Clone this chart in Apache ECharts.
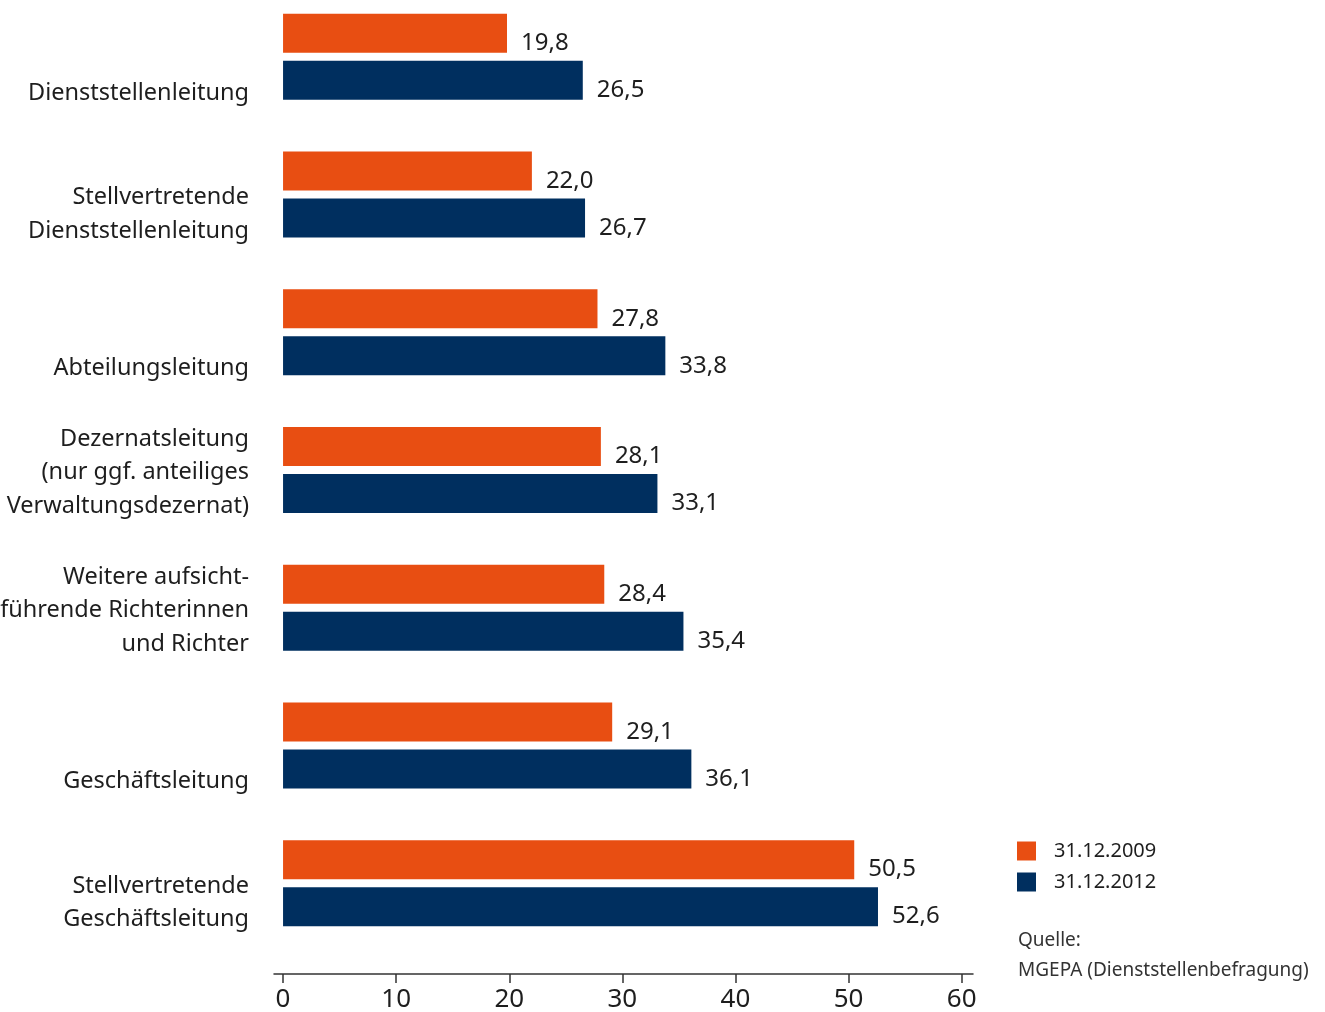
<!DOCTYPE html>
<html>
<head>
<meta charset="utf-8">
<script src="https://cdn.jsdelivr.net/npm/echarts@6/dist/echarts.min.js"></script>
<style>
  html, body { margin: 0; padding: 0; background: #fff; overflow: hidden; }
  /* the canvas reaches a little above the page so the first band sits close to the top edge */
  #chart { position: absolute; left: 0; top: -12px; width: 1325px; height: 1024px; }
</style>
</head>
<body>
<div id="chart"></div>
<script>
// Categories (top to bottom) and the two survey dates
const categories = [
  'Dienststellenleitung',
  'Stellvertretende\nDienststellenleitung',
  'Abteilungsleitung',
  'Dezernatsleitung\n(nur ggf. anteiliges\nVerwaltungsdezernat)',
  'Weitere aufsicht-\nführende Richterinnen\nund Richter',
  'Geschäftsleitung',
  'Stellvertretende\nGeschäftsleitung'
];
const seriesNames = ['31.12.2009', '31.12.2012'];
const values2009 = [19.8, 22.0, 27.8, 28.1, 28.4, 29.1, 50.5];
const values2012 = [26.5, 26.7, 33.8, 33.1, 35.4, 36.1, 52.6];
const xTicks = [0, 10, 20, 30, 40, 50, 60];

const ORANGE = '#E84E12';
const NAVY = '#002F5F';
const TEXT = '#1e1e1e';
const FONT = '"Noto Sans", "Open Sans", sans-serif';

const fmt = v => v.toFixed(1).replace('.', ',');

const valueLabel = {
  show: true,
  position: 'right',
  distance: 12,
  offset: [2, 10],
  fontFamily: FONT,
  fontSize: 24,
  color: TEXT,
  formatter: p => fmt(p.value)
};

const chart = echarts.init(document.getElementById('chart'));
chart.setOption({
  animation: false,
  textStyle: { fontFamily: FONT },
  grid: {
    left: 274, right: 352, top: 0, bottom: 60,
    containLabel: false,
    outerBoundsMode: 'none'
  },
  xAxis: {
    type: 'value',
    min: -0.8,
    max: 61,
    offset: 22,
    splitLine: { show: false },
    axisLine: { show: true, lineStyle: { color: '#333', width: 1.5 } },
    axisTick: { show: true, length: 9, lineStyle: { color: '#333', width: 1.5 }, customValues: xTicks },
    axisLabel: { fontSize: 26, color: TEXT, margin: 13, fontFamily: FONT, customValues: xTicks }
  },
  yAxis: {
    type: 'category',
    inverse: true,
    data: categories,
    axisLine: { show: false },
    axisTick: { show: false },
    axisLabel: {
      interval: 0,
      fontSize: 23.5,
      lineHeight: 33.5,
      color: TEXT,
      fontFamily: FONT,
      align: 'right',
      verticalAlign: 'bottom',
      padding: [0, 0, -53, 0],
      margin: 25
    }
  },
  legend: {
    orient: 'vertical',
    left: 1012,
    top: 848,
    itemWidth: 19,
    itemHeight: 19,
    itemGap: 11,
    icon: 'rect',
    data: seriesNames,
    textStyle: { fontSize: 20, color: TEXT, fontFamily: FONT, padding: [0, 0, 0, 13] }
  },
  graphic: [
    {
      type: 'text',
      left: 1018,
      top: 938,
      style: {
        text: 'Quelle:\nMGEPA (Dienststellenbefragung)',
        font: '19px ' + FONT,
        lineHeight: 30,
        fill: '#333'
      }
    }
  ],
  series: [
    {
      name: seriesNames[0],
      type: 'bar',
      data: values2009,
      barWidth: 39,
      barGap: '20.5%',
      itemStyle: { color: ORANGE },
      label: valueLabel
    },
    {
      name: seriesNames[1],
      type: 'bar',
      data: values2012,
      barWidth: 39,
      barGap: '20.5%',
      itemStyle: { color: NAVY },
      label: valueLabel
    }
  ]
});
</script>
</body>
</html>
